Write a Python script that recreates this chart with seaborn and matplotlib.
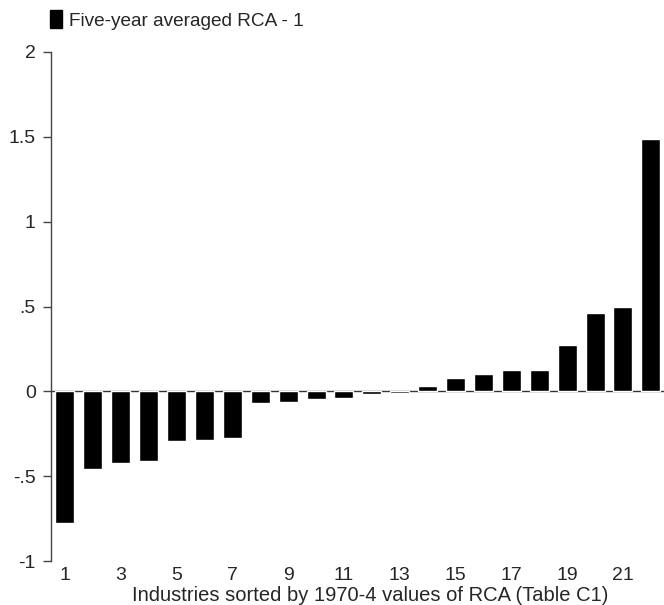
import pandas as pd
import matplotlib
matplotlib.use("Agg")
import matplotlib.pyplot as plt
import seaborn as sns
from matplotlib.patches import Patch

# Industries (sorted by 1970-4 RCA) and five-year averaged RCA - 1
industries = list(range(1, 23))
rca_minus_1 = [-0.776, -0.46, -0.425, -0.41, -0.295, -0.285, -0.276, -0.067,
               -0.06, -0.046, -0.042, -0.018, -0.008, 0.03, 0.08, 0.104,
               0.128, 0.128, 0.276, 0.46, 0.50, 1.488]
y_ticks = [-1, -0.5, 0, 0.5, 1, 1.5, 2]
y_tick_labels = ["-1", "-.5", "0", ".5", "1", "1.5", "2"]

df = pd.DataFrame({"industry": industries, "rca": rca_minus_1})

sns.set_style("white")
plt.rcParams["font.family"] = ["Liberation Sans", "DejaVu Sans"]

fig = plt.figure(figsize=(6.64, 6.05), dpi=100)
ax = fig.add_axes([51 / 664, 1 - 561 / 605, 613 / 664, (561 - 52) / 605])

sns.barplot(data=df, x="industry", y="rca", color="black", width=0.68,
            saturation=1, ax=ax)

ax.axhline(0, color="#333333", lw=1, zorder=0)
ax.set_xlim(-0.5, 21.47)
ax.set_ylim(-1, 2)
ax.set_yticks(y_ticks)
ax.set_yticklabels(y_tick_labels)
ax.set_xticks(range(0, 22, 2))
ax.set_xticklabels([str(i) for i in industries[::2]])

for s in ["top", "right", "bottom"]:
    ax.spines[s].set_visible(False)
ax.spines["left"].set_color("#444444")
ax.spines["left"].set_linewidth(1)

ax.tick_params(axis="y", direction="out", length=6, width=1, color="#444444",
               labelsize=14, pad=5, left=True)
ax.tick_params(axis="x", length=0, labelsize=14, pad=4)
ax.set_xlabel("Industries sorted by 1970-4 values of RCA (Table C1)",
              fontsize=14.5, va="center")
ax.xaxis.set_label_coords(0.52, -0.067)
ax.set_ylabel("")

handle = Patch(facecolor="black", edgecolor="black")
fig.legend([handle], ["Five-year averaged RCA - 1"], loc="upper left",
           bbox_to_anchor=(50 / 664, 1 - 10 / 605), frameon=False,
           fontsize=13.7, handlelength=0.65, handleheight=1.1,
           handletextpad=0.35, borderaxespad=0, borderpad=0)

fig.savefig("out.png", dpi=100)
